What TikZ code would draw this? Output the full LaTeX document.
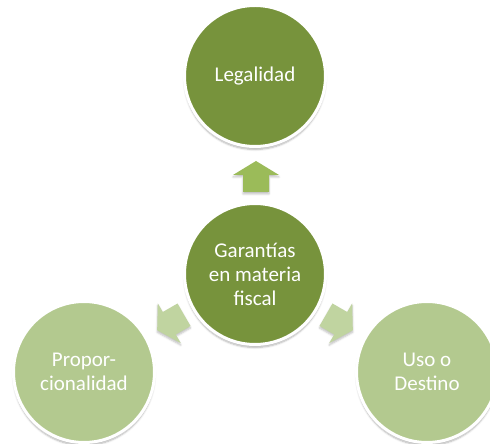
\documentclass[tikz,border=0pt]{standalone}
\usepackage{fontspec}
\setmainfont{Carlito}
\usetikzlibrary{shadows.blur}
\definecolor{darkolive}{HTML}{77933C}
\definecolor{lightolive}{HTML}{B3C98F}
\definecolor{toparrow}{HTML}{9BBB59}
\definecolor{sidearrow}{HTML}{C0D4A0}
\tikzset{
  circ/.style={circle, minimum size=141pt, inner sep=0pt, draw=white, line width=3pt,
    text=white, align=center, font=\fontsize{21}{24}\selectfont,
    blur shadow={shadow xshift=0pt, shadow yshift=-3pt, shadow blur steps=6, shadow opacity=30}},
  darkc/.style={circ, fill=darkolive},
  lightc/.style={circ, fill=lightolive},
  blockarrow/.style={draw=none,
    blur shadow={shadow xshift=0pt, shadow yshift=-2pt, shadow blur steps=4, shadow opacity=25}}
}
\begin{document}
\begin{tikzpicture}[x=1pt,y=1pt]
\useasboundingbox (0,0) rectangle (490,444);
\clip (0,0) rectangle (490,444);
\node[darkc] (top) at (255,368) {Legalidad};
\node[darkc] (center) at (255,170) {Garantías\\en materia\\fiscal};
\node[lightc] (left) at (84,72) {Propor-\\cionalidad};
\node[lightc] (right) at (427,72) {Uso o\\Destino};
\coordinate (atop) at (256,267.5);
\coordinate (aleft) at (170.6,121.5);
\coordinate (aright) at (339.4,121.5);
\fill[blockarrow, fill=toparrow, shift={(atop)}]
  (0,15.5) -- (23,1.5) -- (13,1.5) -- (13,-15.5) -- (-13,-15.5) -- (-13,1.5) -- (-23,1.5) -- cycle;
\fill[blockarrow, fill=sidearrow, shift={(aleft)}, rotate=120]
  (0,15.5) -- (23,1.5) -- (13,1.5) -- (13,-15.5) -- (-13,-15.5) -- (-13,1.5) -- (-23,1.5) -- cycle;
\fill[blockarrow, fill=sidearrow, shift={(aright)}, rotate=240]
  (0,15.5) -- (23,1.5) -- (13,1.5) -- (13,-15.5) -- (-13,-15.5) -- (-13,1.5) -- (-23,1.5) -- cycle;
\end{tikzpicture}
\end{document}
